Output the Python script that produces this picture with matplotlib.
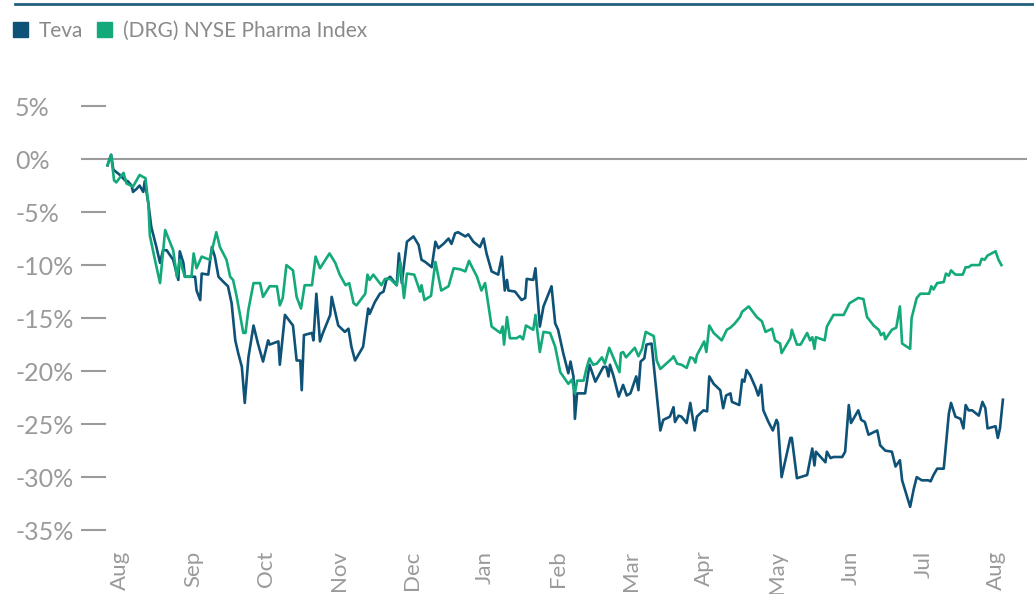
import matplotlib
matplotlib.use('Agg')
import matplotlib.pyplot as plt
from matplotlib.patches import Patch
from matplotlib.lines import Line2D

# months counted from the first "Aug" tick, cumulative return in %
teva_m = [-0.17, -0.12, -0.09, 0.00, 0.07, 0.11, 0.16, 0.18, 0.23, 0.27, 0.32, 0.34, 0.39, 0.43,
          0.50, 0.55, 0.59, 0.64, 0.73, 0.80, 0.82, 0.87, 0.89, 1.03, 1.05, 1.10, 1.12, 1.21,
          1.26, 1.30, 1.35, 1.42, 1.48, 1.53, 1.58, 1.62, 1.67, 1.71, 1.76, 1.83, 1.89, 1.96,
          2.03, 2.05, 2.17, 2.19, 2.26, 2.37, 2.42, 2.47, 2.49, 2.52, 2.63, 2.65, 2.69, 2.74,
          2.78, 2.88, 2.90, 2.99, 3.08, 3.13, 3.17, 3.22, 3.33, 3.40, 3.42, 3.49, 3.56, 3.61,
          3.65, 3.70, 3.79, 3.82, 3.86, 3.93, 4.02, 4.09, 4.13, 4.18, 4.27, 4.32, 4.36, 4.43,
          4.50, 4.54, 4.59, 4.63, 4.73, 4.77, 4.84, 4.93, 4.98, 5.02, 5.09, 5.18, 5.23, 5.27,
          5.30, 5.32, 5.41, 5.50, 5.55, 5.57, 5.66, 5.69, 5.75, 5.80, 5.91, 5.96, 6.00, 6.07,
          6.14, 6.17, 6.21, 6.23, 6.26, 6.37, 6.43, 6.51, 6.62, 6.66, 6.69, 6.71, 6.76, 6.83,
          6.89, 6.94, 6.99, 7.07, 7.10, 7.13, 7.18, 7.21, 7.28, 7.40, 7.44, 7.53, 7.58, 7.60,
          7.65, 7.69, 7.76, 7.81, 7.87, 7.90, 7.99, 8.04, 8.07, 8.13, 8.22, 8.26, 8.30, 8.36,
          8.38, 8.48, 8.52, 8.55, 8.58, 8.63, 8.70, 8.74, 8.78, 8.81, 8.88, 8.94, 8.99, 9.01,
          9.06, 9.18, 9.20, 9.27, 9.41, 9.48, 9.51, 9.53, 9.66, 9.68, 9.73, 9.77, 9.89, 9.93,
          9.98, 10.01, 10.11, 10.15, 10.20, 10.25, 10.37, 10.41, 10.48, 10.57, 10.62, 10.68,
          10.71, 10.82, 10.87, 10.91, 10.98, 11.07, 11.10, 11.14, 11.19, 11.28, 11.35, 11.38,
          11.44, 11.51, 11.55, 11.58, 11.62, 11.67, 11.76, 11.81, 11.85, 11.88, 11.99, 12.02,
          12.05, 12.09]
teva_v = [-0.6, 0.4, -1.0, -1.5, -2.0, -2.1, -2.5, -3.1, -2.8, -2.5, -3.1, -2.1, -4.2, -6.4,
          -8.3, -9.8, -8.6, -8.6, -9.5, -11.4, -8.7, -9.8, -11.1, -11.1, -12.4, -13.3, -10.8, -10.9,
          -8.3, -9.2, -11.1, -11.6, -12.0, -13.6, -17.1, -18.3, -19.6, -23.0, -18.7, -15.7, -17.4, -19.1,
          -17.1, -17.5, -17.2, -19.4, -14.7, -15.7, -19.0, -19.0, -21.8, -16.6, -16.4, -17.1, -12.7, -17.2,
          -16.4, -14.7, -13.0, -15.7, -16.3, -16.0, -17.7, -19.0, -17.7, -14.1, -14.6, -13.5, -12.7, -12.5,
          -11.4, -11.1, -11.9, -8.9, -11.7, -7.8, -7.3, -8.1, -9.5, -9.7, -10.2, -7.8, -8.4, -8.0,
          -7.5, -8.0, -7.0, -6.9, -7.3, -7.1, -7.8, -8.3, -7.5, -8.9, -10.6, -10.9, -9.2, -12.4,
          -11.4, -12.4, -12.5, -13.3, -13.1, -11.3, -11.4, -10.3, -15.8, -13.9, -12.0, -15.5, -16.1, -18.3,
          -20.2, -19.1, -20.5, -24.5, -22.1, -22.1, -19.4, -21.0, -19.6, -19.6, -20.5, -19.4, -20.5, -22.4,
          -21.3, -22.3, -22.1, -20.5, -21.8, -19.1, -18.8, -17.5, -17.4, -25.6, -24.6, -24.3, -23.4, -24.8,
          -24.2, -24.3, -24.9, -23.0, -25.6, -24.3, -23.7, -23.8, -20.5, -21.2, -21.8, -23.5, -22.3, -22.1,
          -22.9, -23.2, -20.8, -21.0, -19.9, -20.4, -21.5, -22.3, -21.3, -23.7, -24.8, -25.6, -24.6, -24.9,
          -30.0, -26.3, -26.3, -30.1, -29.8, -27.3, -28.9, -27.6, -28.6, -27.6, -28.2, -28.1, -28.1, -27.6,
          -23.2, -24.9, -23.7, -24.6, -24.8, -26.0, -25.6, -27.0, -27.5, -27.6, -29.0, -28.4,
          -30.3, -32.8, -31.1, -30.0, -30.3, -30.3, -30.4, -29.8, -29.2, -29.2, -24.0, -23.0,
          -24.3, -24.5, -25.4, -23.2, -23.7, -23.7, -24.2, -22.9, -23.5, -25.4, -25.2, -26.3,
          -25.4, -22.7]

drg_m = [-0.17, -0.12, -0.08, -0.05, 0.05, 0.09, 0.18, 0.27, 0.32, 0.35, 0.39, 0.41, 0.48, 0.55,
         0.62, 0.73, 0.78, 0.82, 0.89, 0.98, 1.01, 1.05, 1.12, 1.23, 1.32, 1.37, 1.46, 1.51,
         1.55, 1.60, 1.69, 1.72, 1.76, 1.83, 1.92, 1.96, 2.05, 2.15, 2.19, 2.23, 2.28, 2.37,
         2.42, 2.48, 2.53, 2.63, 2.68, 2.74, 2.87, 2.95, 3.01, 3.09, 3.14, 3.20, 3.24, 3.36,
         3.39, 3.42, 3.47, 3.58, 3.63, 3.70, 3.79, 3.84, 3.89, 3.93, 4.03, 4.11, 4.13, 4.17,
         4.26, 4.32, 4.40, 4.50, 4.57, 4.66, 4.73, 4.78, 4.83, 4.89, 4.95, 5.00, 5.09, 5.21,
         5.24, 5.26, 5.30, 5.34, 5.43, 5.48, 5.52, 5.56, 5.66, 5.69, 5.75, 5.80, 5.89, 5.96,
         6.03, 6.14, 6.19, 6.23, 6.26, 6.35, 6.39, 6.43, 6.48, 6.53, 6.60, 6.64, 6.70, 6.78,
         6.84, 6.86, 6.89, 6.93, 7.05, 7.10, 7.15, 7.20, 7.31, 7.35, 7.40, 7.56, 7.58, 7.63,
         7.69, 7.76, 7.81, 7.85, 7.88, 7.90, 8.00, 8.03, 8.07, 8.13, 8.24, 8.31, 8.36, 8.42,
         8.49, 8.52, 8.61, 8.72, 8.79, 8.84, 8.93, 8.97, 9.04, 9.06, 9.18, 9.20, 9.27, 9.32,
         9.41, 9.45, 9.48, 9.51, 9.53, 9.65, 9.68, 9.77, 9.91, 9.99, 10.11, 10.18, 10.23, 10.32,
         10.39, 10.42, 10.46, 10.48, 10.57, 10.63, 10.68, 10.71, 10.82, 10.84, 10.91, 10.96,
         11.08, 11.11, 11.14, 11.19, 11.28, 11.31, 11.35, 11.38, 11.44, 11.54, 11.58, 11.62,
         11.66, 11.77, 11.80, 11.84, 11.88, 11.99, 12.03, 12.07]
drg_v = [-0.6, 0.4, -2.0, -2.2, -1.3, -2.3, -2.6, -1.5, -1.7, -1.8, -4.2, -7.2, -9.5, -11.7,
         -6.7, -8.6, -11.1, -9.5, -11.1, -11.1, -8.9, -10.3, -9.2, -9.5, -6.9, -8.3, -9.5, -11.1,
         -11.4, -13.0, -16.4, -16.4, -14.2, -11.7, -11.7, -13.0, -12.0, -12.0, -13.8, -13.1, -10.0, -10.5,
         -13.0, -14.1, -11.9, -11.9, -9.2, -10.3, -8.9, -9.8, -10.9, -11.9, -11.7, -13.6, -13.8, -12.7,
         -10.9, -11.4, -10.9, -11.9, -11.3, -11.3, -11.9, -9.7, -13.1, -10.8, -10.9, -12.5, -11.9, -13.3,
         -12.9, -9.7, -12.4, -12.0, -10.3, -10.4, -10.6, -9.6, -10.3, -11.1, -12.4, -11.7, -15.8, -16.4,
         -15.8, -17.5, -14.9, -16.9, -16.9, -16.7, -17.0, -15.7, -16.1, -14.7, -18.2, -16.3, -16.4, -17.7,
         -20.1, -21.2, -20.8, -22.1, -20.9, -20.9, -19.7, -18.8, -19.4, -19.3, -18.7, -19.3, -17.8, -19.1,
         -20.1, -18.3, -18.2, -18.7, -17.8, -18.6, -17.9, -16.3, -16.7, -19.0, -19.8, -18.8, -18.6, -19.3,
         -19.4, -19.7, -18.7, -18.8, -19.2, -18.5, -17.2, -18.2, -15.7, -16.4, -17.1, -16.1, -15.9, -15.5,
         -14.9, -14.4, -13.9, -14.9, -15.3, -16.3, -16.0, -17.1, -17.4, -18.3, -16.9, -16.1, -17.5, -17.5,
         -16.4, -17.1, -16.8, -17.9, -16.8, -17.1, -15.8, -14.7, -14.7, -13.6, -13.1, -13.2, -14.9, -15.7,
         -16.1, -16.6, -16.4, -17.0, -16.1, -15.9, -13.9, -17.4, -17.9, -15.0, -13.1, -12.7,
         -12.7, -12.0, -12.3, -11.7, -11.6, -10.8, -11.0, -10.5, -10.9, -10.9, -10.2, -10.2,
         -10.0, -10.0, -9.4, -9.5, -9.1, -8.7, -9.5, -10.0]

month_labels = ['Aug', 'Sep', 'Oct', 'Nov', 'Dec', 'Jan', 'Feb', 'Mar', 'Apr', 'May', 'Jun', 'Jul', 'Aug']
y_ticks = [5, 0, -5, -10, -15, -20, -25, -30, -35]

TEVA = '#0E5277'
DRG = '#14A97B'
GRID = '#9B9B9B'
TXT = '#9A9A9A'

plt.rcParams['font.family'] = ['Lato', 'DejaVu Sans']

fig = plt.figure(figsize=(10.34, 5.94), dpi=100)
ax = fig.add_axes([106 / 1034, 49 / 594, 921 / 1034, 450 / 594])

ax.axhline(0, color=GRID, lw=1.5, zorder=1)
ax.plot(teva_m, teva_v, color=TEVA, lw=1.9, zorder=2, label='Teva')
ax.plot(drg_m, drg_v, color=DRG, lw=1.9, zorder=3, label='(DRG) NYSE Pharma Index')

ax.set_xlim(-0.19, 12.42)
ax.set_ylim(-36.4, 6.04)
for s in ax.spines.values():
    s.set_visible(False)

ax.set_yticks(y_ticks)
ax.set_yticklabels([f'{t}%' for t in y_ticks])
ax.tick_params(axis='y', length=18, width=1.5, color=GRID, pad=47.5,
               labelsize=18, labelcolor=TXT)
for lab in ax.get_yticklabels():
    lab.set_horizontalalignment('left')

ax.set_xticks(range(len(month_labels)))
ax.set_xticklabels(month_labels, rotation=90)
ax.tick_params(axis='x', length=0, pad=4, labelsize=16, labelcolor=TXT)

# legend with square swatches
handles = [Patch(color=TEVA, label='Teva'), Patch(color=DRG, label='(DRG) NYSE Pharma Index')]
leg = fig.legend(handles=handles, loc='upper left', bbox_to_anchor=(13 / 1034, 1 - 21 / 594),
                 ncol=2, frameon=False, fontsize=15, handlelength=0.72, handleheight=0.72,
                 handletextpad=0.5, columnspacing=0.7, borderpad=0, borderaxespad=0,
                 labelcolor='#8A8A8A')

# rule across the top
fig.add_artist(Line2D([15 / 1034, 1], [1 - 4 / 594, 1 - 4 / 594], color='#21607F', lw=2))

fig.savefig('out.png', dpi=100)
